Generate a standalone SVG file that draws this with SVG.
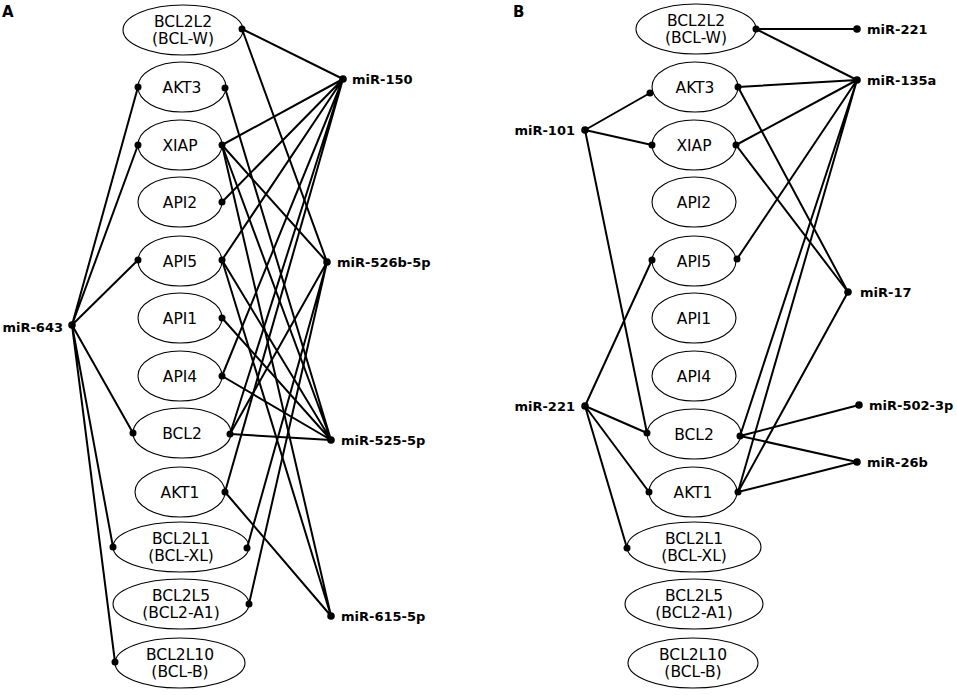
<svg xmlns="http://www.w3.org/2000/svg" width="957" height="695" viewBox="0 0 957 695">
<style>
.bg{fill:#fff}
.node ellipse{fill:#fff;stroke:#000;stroke-width:1.1}
.node text{font-family:"DejaVu Sans",Verdana,sans-serif;font-size:15.5px;text-anchor:middle;fill:#000}
.edge{stroke:#000;stroke-width:2;fill:none}
.dot{fill:#000}
.mir text{font-family:"DejaVu Sans",Verdana,sans-serif;font-size:13px;font-weight:bold;fill:#000}
.panel{font-family:"DejaVu Sans",Arial,sans-serif;font-size:15px;font-weight:bold;fill:#000}
</style>
<rect class="bg" x="0" y="0" width="957" height="695"/>
<text class="panel" x="2" y="17">A</text>
<text class="panel" x="513" y="17">B</text>

<!-- Panel A nodes -->
<g id="A-BCL2L2" class="node"><ellipse cx="183" cy="30" rx="60" ry="25"/><text x="183" y="27">BCL2L2</text><text x="183" y="44">(BCL-W)</text></g>
<g id="A-AKT3" class="node"><ellipse cx="182" cy="87" rx="44" ry="25"/><text x="182" y="93">AKT3</text></g>
<g id="A-XIAP" class="node"><ellipse cx="180" cy="145" rx="42" ry="25"/><text x="180" y="151">XIAP</text></g>
<g id="A-API2" class="node"><ellipse cx="180" cy="202" rx="42" ry="25"/><text x="180" y="208">API2</text></g>
<g id="A-API5" class="node"><ellipse cx="180" cy="261" rx="42" ry="25"/><text x="180" y="267">API5</text></g>
<g id="A-API1" class="node"><ellipse cx="180" cy="318" rx="42" ry="25"/><text x="180" y="324">API1</text></g>
<g id="A-API4" class="node"><ellipse cx="180" cy="376" rx="42" ry="25"/><text x="180" y="382">API4</text></g>
<g id="A-BCL2" class="node"><ellipse cx="182" cy="433" rx="49" ry="25"/><text x="182" y="439">BCL2</text></g>
<g id="A-AKT1" class="node"><ellipse cx="180" cy="492" rx="45" ry="25"/><text x="180" y="498">AKT1</text></g>
<g id="A-BCL2L1" class="node"><ellipse cx="181" cy="547" rx="68" ry="25"/><text x="181" y="544">BCL2L1</text><text x="181" y="561">(BCL-XL)</text></g>
<g id="A-BCL2L5" class="node"><ellipse cx="181" cy="604" rx="68" ry="25"/><text x="181" y="601">BCL2L5</text><text x="181" y="618">(BCL2-A1)</text></g>
<g id="A-BCL2L10" class="node"><ellipse cx="180" cy="663" rx="65" ry="25"/><text x="180" y="660">BCL2L10</text><text x="180" y="677">(BCL-B)</text></g>

<!-- Panel B nodes -->
<g id="B-BCL2L2" class="node"><ellipse cx="696" cy="29" rx="60" ry="25"/><text x="696" y="26">BCL2L2</text><text x="696" y="43">(BCL-W)</text></g>
<g id="B-AKT3" class="node"><ellipse cx="695" cy="87" rx="43" ry="25"/><text x="695" y="93">AKT3</text></g>
<g id="B-XIAP" class="node"><ellipse cx="694" cy="145" rx="42" ry="25"/><text x="694" y="151">XIAP</text></g>
<g id="B-API2" class="node"><ellipse cx="694" cy="202" rx="42" ry="25"/><text x="694" y="208">API2</text></g>
<g id="B-API5" class="node"><ellipse cx="694" cy="261" rx="42" ry="25"/><text x="694" y="267">API5</text></g>
<g id="B-API1" class="node"><ellipse cx="694" cy="318" rx="42" ry="25"/><text x="694" y="324">API1</text></g>
<g id="B-API4" class="node"><ellipse cx="694" cy="376" rx="42" ry="25"/><text x="694" y="382">API4</text></g>
<g id="B-BCL2" class="node"><ellipse cx="694" cy="434" rx="47" ry="25"/><text x="694" y="440">BCL2</text></g>
<g id="B-AKT1" class="node"><ellipse cx="693" cy="492" rx="44" ry="25"/><text x="693" y="498">AKT1</text></g>
<g id="B-BCL2L1" class="node"><ellipse cx="694" cy="547" rx="67" ry="25"/><text x="694" y="544">BCL2L1</text><text x="694" y="561">(BCL-XL)</text></g>
<g id="B-BCL2L5" class="node"><ellipse cx="694" cy="604" rx="69" ry="25"/><text x="694" y="601">BCL2L5</text><text x="694" y="618">(BCL2-A1)</text></g>
<g id="B-BCL2L10" class="node"><ellipse cx="693" cy="663" rx="65" ry="25"/><text x="693" y="660">BCL2L10</text><text x="693" y="677">(BCL-B)</text></g>

<!-- miRNA labels -->
<g id="A-miR-643" class="mir"><text x="63" y="332" text-anchor="end">miR-643</text></g>
<g id="A-miR-150" class="mir"><text x="352" y="84">miR-150</text></g>
<g id="A-miR-526b-5p" class="mir"><text x="337" y="267">miR-526b-5p</text></g>
<g id="A-miR-525-5p" class="mir"><text x="341" y="445">miR-525-5p</text></g>
<g id="A-miR-615-5p" class="mir"><text x="341" y="621">miR-615-5p</text></g>
<g id="B-miR-101" class="mir"><text x="575" y="135" text-anchor="end">miR-101</text></g>
<g id="B-miR-221-left" class="mir"><text x="575" y="411" text-anchor="end">miR-221</text></g>
<g id="B-miR-221-top" class="mir"><text x="867" y="34">miR-221</text></g>
<g id="B-miR-135a" class="mir"><text x="867" y="85">miR-135a</text></g>
<g id="B-miR-17" class="mir"><text x="860" y="297">miR-17</text></g>
<g id="B-miR-502-3p" class="mir"><text x="869" y="410">miR-502-3p</text></g>
<g id="B-miR-26b" class="mir"><text x="867" y="467">miR-26b</text></g>

<g id="connectors">
<!-- Panel A: miR-643 -->
<path class="edge" d="M72 325L138 87M72 325L138 145M72 325L138 260M72 325L133 433M72 325L113 547M72 325L115 662"/>
<!-- miR-150 -->
<path class="edge" d="M343 79L242 29M343 79L222 145M343 79L222 202M343 79L222 260M343 79L222 376M343 79L230 434M343 79L225 492"/>
<!-- miR-526b-5p -->
<path class="edge" d="M327 262L242 29M327 262L222 145M327 262L230 434M327 262L247 548M327 262L249 604"/>
<!-- miR-525-5p -->
<path class="edge" d="M331 440L225 88M331 440L222 145M331 440L222 260M331 440L222 318M331 440L222 376M331 440L230 434"/>
<!-- miR-615-5p -->
<path class="edge" d="M331 616L222 145M331 616L222 260M331 616L225 492"/>

<!-- Panel B -->
<path class="edge" d="M585 130L650 93M585 130L652 145M585 130L647 433"/>
<path class="edge" d="M585 406L652 260M585 406L647 433M585 406L649 492M585 406L627 548"/>
<path class="edge" d="M857 29L756 29"/>
<path class="edge" d="M857 80L756 29M857 80L738 87M857 80L736 145M857 80L737 259M857 80L740 436M857 80L738 492"/>
<path class="edge" d="M848 292L738 87M848 292L736 145M848 292L738 492"/>
<path class="edge" d="M859 405L740 436"/>
<path class="edge" d="M857 462L740 436M857 462L738 492"/>

<g id="dots" class="dot">
<circle cx="72" cy="325" r="3.8"/><circle cx="343" cy="79" r="3.8"/><circle cx="327" cy="262" r="3.8"/><circle cx="331" cy="440" r="3.8"/><circle cx="331" cy="616" r="3.8"/>
<circle cx="138" cy="87" r="3.5"/><circle cx="138" cy="145" r="3.5"/><circle cx="138" cy="260" r="3.5"/><circle cx="133" cy="433" r="3.5"/><circle cx="113" cy="547" r="3.5"/><circle cx="115" cy="662" r="3.5"/>
<circle cx="242" cy="29" r="3.5"/><circle cx="225" cy="88" r="3.5"/><circle cx="222" cy="145" r="3.5"/><circle cx="222" cy="202" r="3.5"/><circle cx="222" cy="260" r="3.5"/><circle cx="222" cy="318" r="3.5"/><circle cx="222" cy="376" r="3.5"/><circle cx="230" cy="434" r="3.5"/><circle cx="225" cy="492" r="3.5"/><circle cx="247" cy="548" r="3.5"/><circle cx="249" cy="604" r="3.5"/>
<circle cx="585" cy="130" r="3.8"/><circle cx="585" cy="406" r="3.8"/><circle cx="857" cy="29" r="3.8"/><circle cx="857" cy="80" r="3.8"/><circle cx="848" cy="292" r="3.8"/><circle cx="859" cy="405" r="3.8"/><circle cx="857" cy="462" r="3.8"/>
<circle cx="650" cy="93" r="3.5"/><circle cx="652" cy="145" r="3.5"/><circle cx="652" cy="260" r="3.5"/><circle cx="647" cy="433" r="3.5"/><circle cx="649" cy="492" r="3.5"/><circle cx="627" cy="548" r="3.5"/>
<circle cx="756" cy="29" r="3.5"/><circle cx="738" cy="87" r="3.5"/><circle cx="736" cy="145" r="3.5"/><circle cx="737" cy="259" r="3.5"/><circle cx="740" cy="436" r="3.5"/><circle cx="738" cy="492" r="3.5"/>
</g>
</g>
</svg>
